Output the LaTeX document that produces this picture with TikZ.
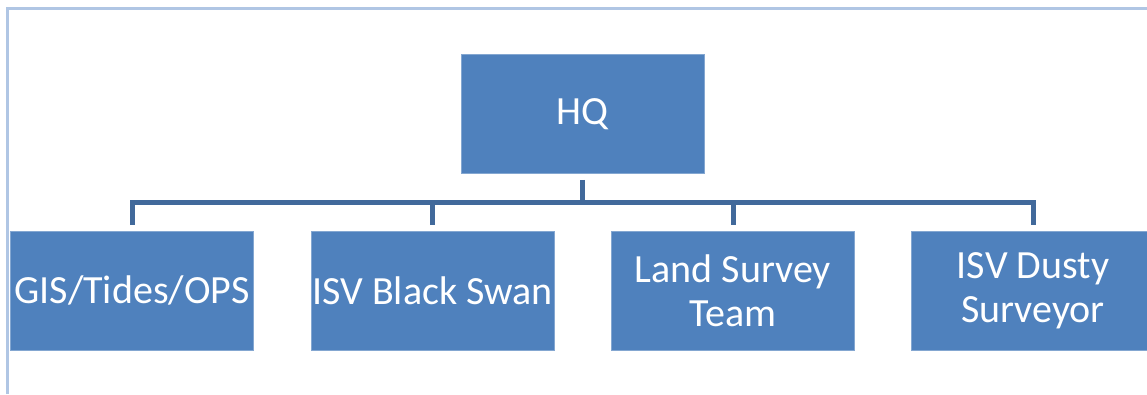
\documentclass[tikz,border=0pt]{standalone}
\usepackage{fontspec}
\setmainfont{Carlito}
\usetikzlibrary{calc,positioning}
\definecolor{unitblue}{RGB}{79,129,189}
\definecolor{linkblue}{RGB}{65,105,155}
\definecolor{frameblue}{RGB}{176,198,228}

\begin{document}
\begin{tikzpicture}[x=1pt,y=-1pt]

\tikzset{
unit/.style={fill=unitblue,draw=unitblue!70!white,line width=0.8pt,text=white,minimum width=243pt,minimum height=119pt,inner sep=0pt,align=center,font=\fontsize{40}{44}\selectfont},
link/.style={draw=linkblue,line width=5pt},
frame/.style={draw=frameblue,line width=3pt}
}

\useasboundingbox (0,0) rectangle (1147,394);

% Frame
\draw[frame] (7,394) -- (7,8.5) -- (1147,8.5);

% Nodes
\node[unit] (hq) at (582.5,114) {HQ};

\node[unit] (gis) at (132,290.5) {GIS/Tides/OPS};
\node[unit] (swan) at (432.5,290.5) {ISV Black Swan};
\node[unit] (land) at (733,290.5) {Land Survey\\Team};
\node[unit] (dusty) at (1033,290.5) {ISV Dusty\\Surveyor};

\coordinate (bus) at ($(hq.south)+(0,29)$);

% Links
\draw[link] ([yshift=6pt]gis.north) |- (bus) -| ([yshift=6pt]dusty.north);
\draw[link] ([yshift=-6pt]hq.south) -- (bus);
\draw[link] ([yshift=6pt]swan.north) -- (bus -| swan.north);
\draw[link] ([yshift=6pt]land.north) -- (bus -| land.north);

\end{tikzpicture}
\end{document}
